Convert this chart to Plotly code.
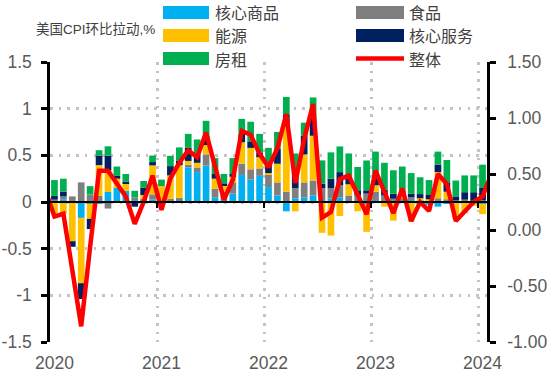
import plotly.graph_objects as go

# ---------------- data ----------------
months = ["2019-12"] + [f"{y}-{m:02d}" for y in range(2020, 2024) for m in range(1, 13)] + ["2024-01", "2024-02"]
bar_months = months[1:50]          # 2020-01 .. 2024-01

core_goods = [0.01, 0.03, -0.01, -0.17, -0.02, -0.02, 0.107, 0.15, 0.12, 0.02, 0.02, 0.025,
              -0.02, 0.015, 0.015, 0.37, 0.32, 0.39, 0.05, 0.03, 0.09, 0.29, 0.24, 0.28,
              0.16, 0.07, -0.10, 0.04, 0.05, 0.07, 0.018, 0.036, 0.05, 0.0, 0.0, -0.02,
              0.02, 0.0, 0.0, 0.02, 0.02, 0.01, -0.03, -0.05, -0.02, 0.0, 0.005, -0.01,
              -0.02]
food = [0.015, 0.03, 0.06, 0.21, 0.08, 0.065, -0.07, 0.0, 0.0, 0.03, 0.015, 0.057,
        0.0, 0.02, 0.03, 0.03, 0.05, 0.12, 0.09, 0.08, 0.12, 0.12, 0.11, 0.08,
        0.13, 0.14, 0.11, 0.11, 0.16, 0.16, 0.132, 0.114, 0.13, 0.07, 0.07, 0.09,
        0.09, 0.07, 0.035, 0.02, 0.03, 0.01, 0.02, 0.04, 0.03, 0.02, 0.02, 0.015,
        0.02]
energy = [-0.14, -0.13, -0.41, -0.70, -0.16, 0.33, 0.23, 0.10, 0.08, 0.0, 0.04, 0.31,
          0.17, 0.25, 0.35, 0.04, 0.05, 0.10, 0.11, 0.07, 0.06, 0.23, 0.23, 0.12,
          0.02, 0.20, 0.73, -0.10, 0.30, 0.48, -0.33, -0.36, -0.15, 0.12, -0.10, -0.30,
          0.07, -0.05, -0.20, 0.045, -0.21, 0.02, 0.01, 0.28, 0.08, -0.18, -0.12, -0.03,
          -0.11]
core_services = [0.04, 0.05, -0.06, -0.17, -0.11, 0.10, 0.16, 0.03, 0.02, -0.05, 0.08, 0.036,
                 0.0, 0.10, 0.05, 0.14, 0.09, 0.10, 0.05, 0.02, 0.03, 0.09, 0.07, 0.05,
                 0.12, 0.16, 0.10, 0.18, 0.20, 0.18, 0.046, 0.10, 0.14, 0.06, 0.055, 0.035,
                 0.09, 0.06, 0.055, 0.035, 0.04, 0.045, 0.045, 0.08, 0.10, 0.04, 0.08, 0.09,
                 0.13]
rent = [0.17, 0.14, 0.0, 0.0, 0.09, 0.06, 0.10, 0.10, 0.08, 0.07, 0.07, 0.07,
        0.07, 0.11, 0.14, 0.15, 0.16, 0.16, 0.17, 0.10, 0.17, 0.16, 0.21, 0.20,
        0.15, 0.18, 0.185, 0.19, 0.14, 0.23, 0.25, 0.282, 0.275, 0.27, 0.25, 0.32,
        0.27, 0.29, 0.25, 0.26, 0.22, 0.18, 0.16, 0.14, 0.24, 0.17, 0.18, 0.18,
        0.25]
headline = [0.35, 0.12, 0.145, -0.37, -0.86, -0.15, 0.53, 0.53, 0.41, 0.30, 0.055, 0.25, 0.485,
            0.18, 0.46, 0.60, 0.71, 0.65, 0.87, 0.56, 0.27, 0.45, 0.885, 0.85, 0.68,
            0.56, 0.73, 1.035, 0.42, 0.81, 1.125, 0.11, 0.16, 0.455, 0.485, 0.315, 0.14,
            0.53, 0.33, 0.15, 0.37, 0.08, 0.25, 0.17, 0.50, 0.41, 0.08, 0.17, 0.25,
            0.30, 0.50]

year_labels = ["2020", "2021", "2022", "2023", "2024"]
left_ticks = [-1.5, -1, -0.5, 0, 0.5, 1, 1.5]
left_ticktext = ["-1.5", "-1", "-0.5", "0", "0.5", "1", "1.5"]
right_ticks = [-1, -0.5, 0, 0.5, 1, 1.5]
right_ticktext = ["-1.00", "-0.50", "0.00", "0.50", "1.00", "1.50"]

series = [("核心商品", core_goods, "#00B0F0"),
          ("食品", food, "#7F7F7F"),
          ("能源", energy, "#FFC000"),
          ("核心服务", core_services, "#002060"),
          ("房租", rent, "#00B050")]
line_name, line_color = "整体", "#FF0000"

# ---------------- figure ----------------
pos = {m: i for i, m in enumerate(months)}
bar_x = [pos[m] for m in bar_months]
line_x = [pos[m] for m in months]
year_pos = [pos[f"{y}-01"] for y in year_labels]
year_bounds = [p - 0.5 for p in year_pos[1:]]

FONT_NUM = "Liberation Sans, Arial, sans-serif"
FONT_CJK = "Liberation Sans, Noto Sans CJK SC, sans-serif"
TICK_COLOR = "#595959"
GRID = dict(showgrid=True, gridcolor="#c4c4c4", gridwidth=2.5, griddash="2.5px,6.2px")

fig = go.Figure()
for name, vals, col in series:
    fig.add_trace(go.Bar(x=bar_x, y=vals, name=name, marker=dict(color=col, line=dict(width=0)),
                         width=0.75, xaxis="x", yaxis="y", showlegend=False))
fig.add_trace(go.Scatter(x=line_x, y=headline, name=line_name, mode="lines",
                         line=dict(color=line_color, width=4.5), xaxis="x2", yaxis="y2",
                         showlegend=False))

W, H = 553, 381
L, R, T, B = 50, 66, 62, 39
pw, ph = W - L - R, H - T - B


def px(x):
    return (x - L) / pw


def py(y):
    return (H - B - y) / ph


xr = [0.5, 49.5]
fig.update_layout(
    width=W, height=H, margin=dict(l=L, r=R, t=T, b=B, autoexpand=False),
    paper_bgcolor="white", plot_bgcolor="white",
    barmode="relative", bargap=0.25,
    xaxis=dict(range=xr, anchor="free", position=0.5, showline=True, linecolor="black",
               linewidth=2, ticks="outside", ticklen=5, tickwidth=2, tickcolor="black",
               tickmode="array", tickvals=year_bounds, showticklabels=False, zeroline=False,
               automargin=False, **GRID),
    xaxis2=dict(range=xr, overlaying="x", anchor="y2", side="bottom", tickmode="array",
                tickvals=year_pos, ticktext=year_labels, ticks="", showline=False,
                showgrid=False, zeroline=False, ticklabelstandoff=8, automargin=False,
                tickfont=dict(family=FONT_NUM, size=17.5, color=TICK_COLOR)),
    yaxis=dict(range=[-1.5, 1.5], tickmode="array", tickvals=left_ticks, ticktext=left_ticktext,
               showline=True, linecolor="black", linewidth=2.5, ticks="outside", ticklen=6,
               tickwidth=2.5, tickcolor="black", zeroline=False, ticklabelstandoff=6,
               automargin=False,
               tickfont=dict(family=FONT_NUM, size=17.5, color=TICK_COLOR), **GRID),
    yaxis2=dict(range=[-1, 1.5], overlaying="y", anchor="x2", side="right", tickmode="array",
                tickvals=right_ticks, ticktext=right_ticktext, showline=True, linecolor="black",
                linewidth=2.5, ticks="outside", ticklen=6, tickwidth=2.5, tickcolor="black",
                showgrid=False, zeroline=False, ticklabelstandoff=8, automargin=False,
                tickfont=dict(family=FONT_NUM, size=17.5, color=TICK_COLOR)),
)

# title
fig.add_annotation(text="美国CPI环比拉动,%", xref="paper", yref="paper", x=px(34), y=py(30),
                   xanchor="left", yanchor="middle", showarrow=False,
                   font=dict(family=FONT_CJK, size=13.5, color="#404040"))

# manual legend
cols = [(163, 209, 213), (356, 404, 407)]
rows = [12.5, 35.5, 58.5]
legend_items = [(s[0], s[2], "bar") for s in series] + [(line_name, line_color, "line")]
for k, (name, col, kind) in enumerate(legend_items):
    c = cols[k % 2]
    r = rows[k // 2]
    if kind == "bar":
        fig.add_shape(type="rect", xref="paper", yref="paper", x0=px(c[0]), x1=px(c[1]),
                      y0=py(r + 6.5), y1=py(r - 6.5), fillcolor=col, line=dict(width=0))
    else:
        fig.add_shape(type="line", xref="paper", yref="paper", x0=px(c[0]), x1=px(c[1]),
                      y0=py(r), y1=py(r), line=dict(color=col, width=4.5))
    fig.add_annotation(text=name, xref="paper", yref="paper", x=px(c[2]), y=py(r),
                       xanchor="left", yanchor="middle", showarrow=False,
                       font=dict(family="Noto Sans CJK SC, sans-serif", size=16, color="#404040"))

fig.write_html("out.html", config={"displayModeBar": False},
               post_script="document.body.style.margin='0';")
